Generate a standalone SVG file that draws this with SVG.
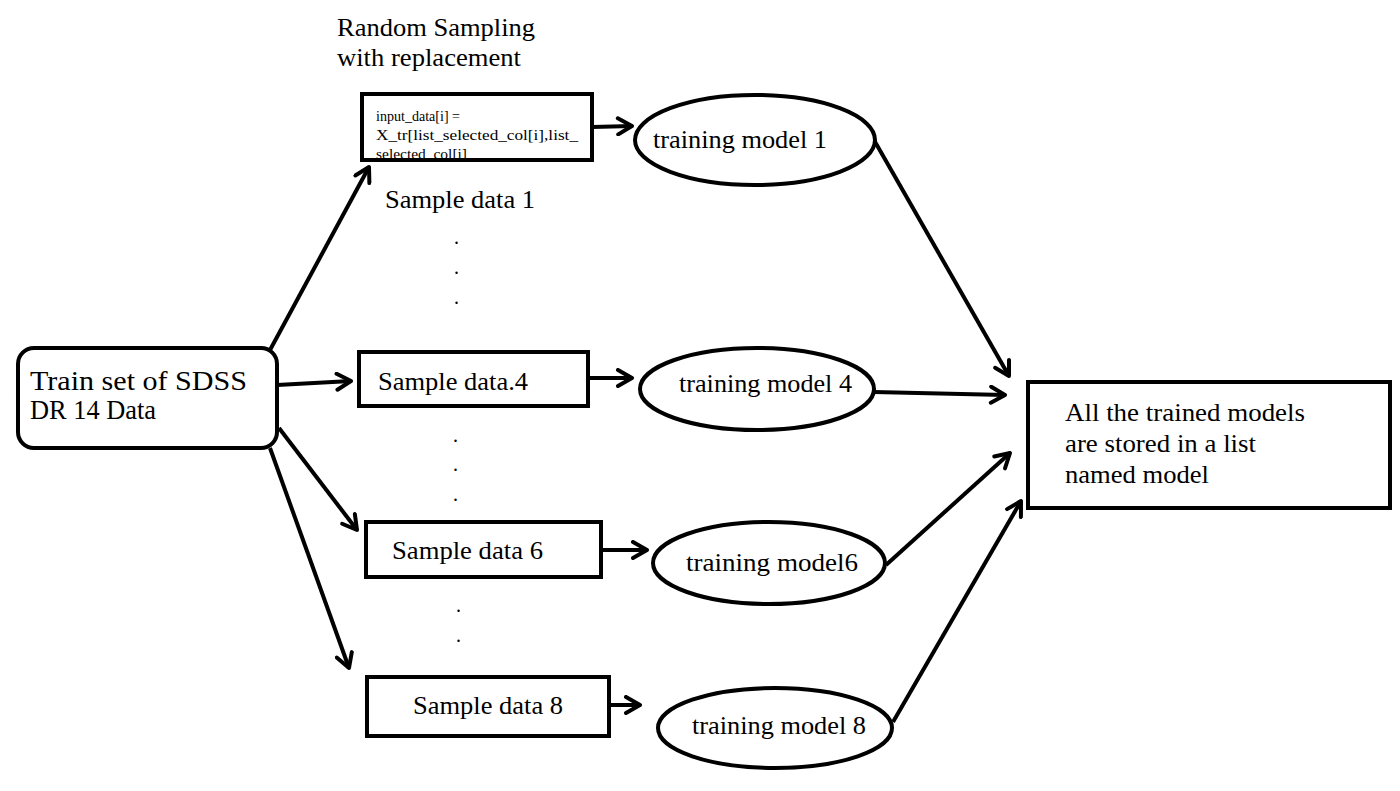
<svg xmlns="http://www.w3.org/2000/svg" width="1400" height="791" viewBox="0 0 1400 791">
<defs>
<marker id="arr" viewBox="0 0 20 20" refX="17" refY="10" markerWidth="20" markerHeight="20" markerUnits="userSpaceOnUse" orient="auto">
<path d="M3,2 L17,10 L3,18" fill="none" stroke="#000" stroke-width="4" stroke-linecap="round" stroke-linejoin="round"/>
</marker>
<clipPath id="c1"><rect x="364" y="96" width="226" height="62"/></clipPath>
</defs>
<style>
text{font-family:"Liberation Serif","Times New Roman",serif;fill:#000}
.t{font-size:26px}
.b{font-size:28px}
.s{font-size:15px}
.box{fill:#fff;stroke:#000;stroke-width:4}
.ell{fill:#fff;stroke:#000;stroke-width:4}
.con{fill:none;stroke:#000;stroke-width:4;marker-end:url(#arr)}
.dot{font-size:20px}
</style>
<rect width="1400" height="791" fill="#fff"/>
<text class="t" x="337" y="36" textLength="198" lengthAdjust="spacingAndGlyphs">Random Sampling</text>
<text class="t" x="337" y="66" textLength="184" lengthAdjust="spacingAndGlyphs">with replacement</text>
<g id="connectors">
<line class="con" x1="270" y1="350" x2="369" y2="167"/>
<line class="con" x1="277" y1="385" x2="351" y2="381"/>
<line class="con" x1="279" y1="428" x2="357" y2="530"/>
<line class="con" x1="270" y1="448" x2="349" y2="668"/>
<line class="con" x1="592" y1="127" x2="632" y2="126"/>
<line class="con" x1="588" y1="378" x2="632" y2="378"/>
<line class="con" x1="601" y1="550" x2="647" y2="550"/>
<line class="con" x1="609" y1="705" x2="640" y2="705"/>
<line class="con" x1="874" y1="140" x2="1009" y2="376"/>
<line class="con" x1="874" y1="392" x2="1005" y2="395"/>
<line class="con" x1="886" y1="565" x2="1010" y2="453"/>
<line class="con" x1="893" y1="722" x2="1021" y2="501"/>
</g>
<g id="train">
<rect class="box" x="18" y="348" width="259" height="100" rx="16"/>
<text class="b" x="30" y="390" textLength="217" lengthAdjust="spacingAndGlyphs">Train set of SDSS</text>
<text class="b" x="30" y="419" textLength="126" lengthAdjust="spacingAndGlyphs">DR 14 Data</text>
</g>
<g id="sample1">
<rect class="box" x="362" y="94" width="230" height="66"/>
<g clip-path="url(#c1)">
<text class="s" x="376" y="121" textLength="84" lengthAdjust="spacingAndGlyphs">input_data[i] =</text>
<text class="s" x="376" y="140" textLength="202" lengthAdjust="spacingAndGlyphs">X_tr[list_selected_col[i],list_</text>
<text class="s" x="376" y="159" textLength="91" lengthAdjust="spacingAndGlyphs">selected_col[i]</text>
</g>
<text class="t" x="385" y="208" textLength="150" lengthAdjust="spacingAndGlyphs">Sample data 1</text>
</g>
<g id="dots">
<text class="dot" x="454" y="244">.</text>
<text class="dot" x="454" y="274">.</text>
<text class="dot" x="454" y="304">.</text>
<text class="dot" x="453" y="442">.</text>
<text class="dot" x="453" y="471">.</text>
<text class="dot" x="453" y="501">.</text>
<text class="dot" x="456" y="612">.</text>
<text class="dot" x="456" y="642">.</text>
</g>
<g id="sample4">
<rect class="box" x="359" y="352" width="229" height="54"/>
<text class="t" x="378" y="390" textLength="150" lengthAdjust="spacingAndGlyphs">Sample data.4</text>
</g>
<g id="sample6">
<rect class="box" x="366" y="522" width="235" height="55"/>
<text class="t" x="392" y="559" textLength="151" lengthAdjust="spacingAndGlyphs">Sample data 6</text>
</g>
<g id="sample8">
<rect class="box" x="367" y="677" width="242" height="59"/>
<text class="t" x="413" y="714" textLength="150" lengthAdjust="spacingAndGlyphs">Sample data 8</text>
</g>
<g id="model1">
<ellipse class="ell" cx="755" cy="140" rx="120" ry="45"/>
<text class="t" x="653" y="148" textLength="174" lengthAdjust="spacingAndGlyphs">training model 1</text>
</g>
<g id="model4">
<ellipse class="ell" cx="757" cy="389" rx="117" ry="41"/>
<text class="t" x="679" y="392" textLength="173" lengthAdjust="spacingAndGlyphs">training model 4</text>
</g>
<g id="model6">
<ellipse class="ell" cx="769" cy="563" rx="116" ry="41"/>
<text class="t" x="686" y="571" textLength="172" lengthAdjust="spacingAndGlyphs">training model6</text>
</g>
<g id="model8">
<ellipse class="ell" cx="775" cy="728" rx="117" ry="40"/>
<text class="t" x="692" y="734" textLength="174" lengthAdjust="spacingAndGlyphs">training model 8</text>
</g>
<g id="result">
<rect class="box" x="1028" y="382" width="362" height="126"/>
<text class="t" x="1065" y="421" textLength="240" lengthAdjust="spacingAndGlyphs">All the trained models</text>
<text class="t" x="1065" y="452" textLength="191" lengthAdjust="spacingAndGlyphs">are stored in a list</text>
<text class="t" x="1065" y="483" textLength="144" lengthAdjust="spacingAndGlyphs">named model</text>
</g>
</svg>
